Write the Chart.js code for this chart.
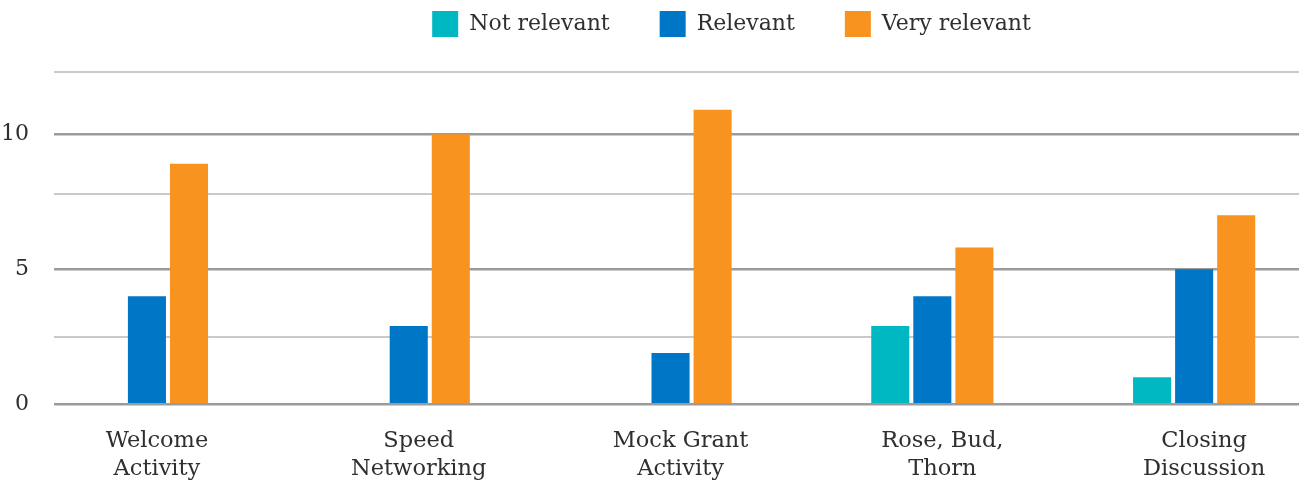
<!DOCTYPE html>
<html>
<head>
<meta charset="utf-8">
<script src="https://cdn.jsdelivr.net/npm/chart.js@4.4.1/dist/chart.umd.min.js"></script>
<style>
  html, body { margin: 0; padding: 0; overflow: hidden; background: #fff; }
  #wrap { width: 1463px; height: 482px; }
</style>
</head>
<body>
<div id="wrap"><canvas id="chart" width="1463" height="482"></canvas></div>
<script>
const categories = [['Welcome', 'Activity'], ['Speed', 'Networking'], ['Mock Grant', 'Activity'], ['Rose, Bud,', 'Thorn'], ['Closing', 'Discussion']];
const notRelevant = [0, 0, 0, 2.9, 1];
const relevant = [4, 2.9, 1.9, 4, 5];
const veryRelevant = [8.9, 10, 10.9, 5.8, 7];
const yTicks = [0, 2.5, 5, 7.8, 10, 12.3];
const yLabels = [0, 5, 10];

const textColor = '#2f2f2f';
const serif = 'DejaVu Serif';

const toPoints = vals => vals.map((v, i) => ({ x: i, y: v }));

// legend sits high, keep the plot area top where the reference has it
const legendSpacer = {
    id: 'legendSpacer',
    beforeInit(chart) {
        const fit = chart.legend.fit;
        chart.legend.fit = function () {
            fit.call(this);
            this.height += 25;
        };
    }
};

new Chart(document.getElementById('chart'), {
    type: 'bar',
    data: {
        datasets: [
            { label: 'Not relevant', data: toPoints(notRelevant), backgroundColor: '#00b8c1' },
            { label: 'Relevant', data: toPoints(relevant), backgroundColor: '#0076c6' },
            { label: 'Very relevant', data: toPoints(veryRelevant), backgroundColor: '#f7931e' }
        ]
    },
    options: {
        responsive: false,
        animation: false,
        datasets: { bar: { categoryPercentage: 0.482, barPercentage: 0.905 } },
        layout: { padding: { top: -39, left: 0, right: 0, bottom: 0 } },
        plugins: {
            legend: {
                position: 'top',
                labels: { boxWidth: 26, boxHeight: 26, padding: 50, color: textColor, font: { family: serif, size: 22 } }
            },
            tooltip: { enabled: false }
        },
        scales: {
            x: {
                type: 'linear',
                offset: false,
                min: -0.355,
                max: 5.027,
                grid: { display: false },
                border: { display: false },
                afterBuildTicks: s => { s.ticks = categories.map((_, i) => ({ value: i })); },
                afterFit: s => { s.height = 77.7; },
                ticks: {
                    callback: v => categories[v],
                    padding: 15,
                    labelOffset: 10,
                    maxRotation: 0,
                    autoSkip: false,
                    color: textColor,
                    font: { family: serif, size: 22.5, lineHeight: 1.245 }
                }
            },
            y: {
                min: 0,
                max: 12.3,
                border: { display: false },
                afterBuildTicks: s => { s.ticks = yTicks.map(v => ({ value: v })); },
                afterFit: s => { s.width = 54; },
                grid: {
                    drawTicks: false,
                    color: c => yLabels.includes(c.tick.value) ? '#9b9b9b' : '#c9c9c9',
                    lineWidth: c => yLabels.includes(c.tick.value) ? 2.5 : 2
                },
                ticks: {
                    padding: 25,
                    callback: v => yLabels.includes(v) ? String(v) : '',
                    color: textColor,
                    font: { family: serif, size: 22 }
                }
            }
        }
    },
    plugins: [legendSpacer]
});
</script>
</body>
</html>
